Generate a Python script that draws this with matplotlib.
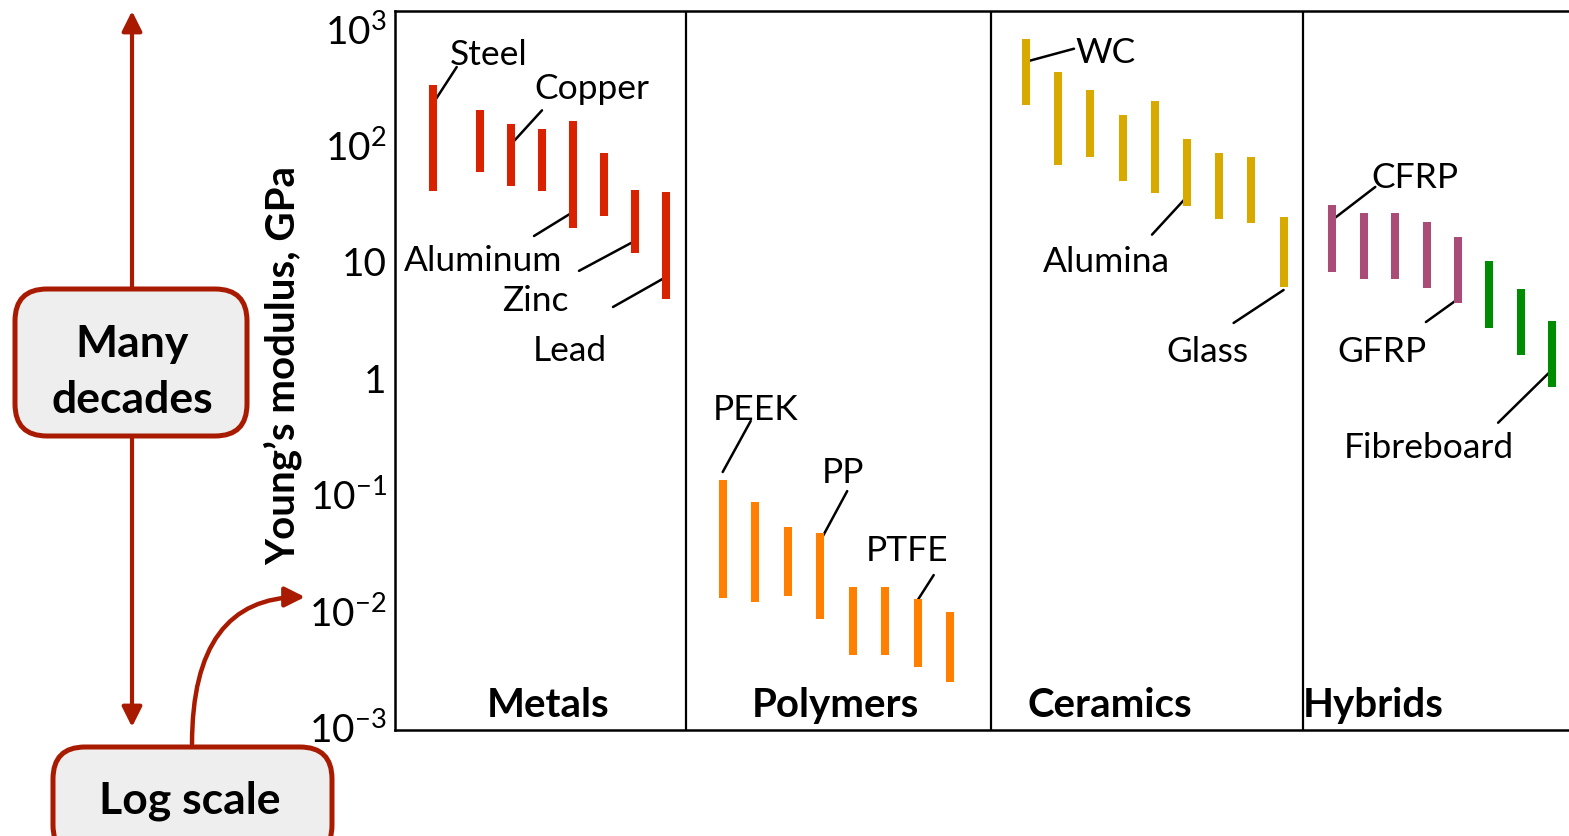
import numpy as np
import matplotlib
matplotlib.use("Agg")
import matplotlib.pyplot as plt
from matplotlib.patches import FancyBboxPatch, FancyArrowPatch
import matplotlib.transforms as mtransforms

plt.rcParams['font.family'] = ['Lato', 'DejaVu Sans']
plt.rcParams['mathtext.fontset'] = 'custom'
plt.rcParams['mathtext.rm'] = 'Lato'

# Young's modulus ranges (GPa), low / high
metals_lo = [39.5, 58.2, 43.6, 39.5, 19.1, 24.1, 11.7, 4.66]
metals_hi = [325, 198, 150, 136, 158, 84, 40.5, 38.7]
polymers_lo = [0.0127, 0.0116, 0.0131, 0.0084, 0.0041, 0.0041, 0.0032, 0.0024]
polymers_hi = [0.130, 0.084, 0.051, 0.046, 0.0157, 0.0157, 0.0124, 0.0095]
ceramics_lo = [217, 67, 78, 48, 38, 29.7, 22.7, 21.1, 5.9]
ceramics_hi = [804, 421, 293, 179, 237, 111, 84, 78, 23.9]
composites_lo = [8.0, 6.9, 6.9, 5.8, 4.3]
composites_hi = [30.1, 25.8, 25.8, 21.5, 16.0]
fibreboard_lo = [2.64, 1.54, 0.815]
fibreboard_hi = [9.87, 5.74, 3.05]

categories = ["Metals", "Polymers", "Ceramics", "Hybrids"]
ytick_vals = [1e-3, 1e-2, 1e-1, 1, 10, 1e2, 1e3]
ytick_labels = [r'$\mathregular{10^{-3}}$', r'$\mathregular{10^{-2}}$', r'$\mathregular{10^{-1}}$',
                '1', '10', r'$\mathregular{10^{2}}$', r'$\mathregular{10^{3}}$']

# layout (x axis runs in figure pixels, it is hidden anyway)
W, H = 1569, 837
fig = plt.figure(figsize=(W / 100, H / 100), dpi=100)
ax = fig.add_axes([395 / W, 1 - 731 / H, 1 - 395 / W, 719 / H])
ax.set_yscale('log')
ax.set_xlim(395, W)
ax.set_ylim(10 ** -3.034, 10 ** 3.146)


def xs(start, step, n):
    return start + step * np.arange(n)


x_met = xs(449.0, 31.0, 8)
x_met[0] = 432.7
x_pol = xs(722.7, 32.5, 8)
x_cer = xs(1026.0, 32.2, 9)
x_hyb = xs(1332.3, 31.4, 8)

bar_lw = 5.8
ax.vlines(x_met, metals_lo, metals_hi, color='#d92200', lw=bar_lw, zorder=3)
ax.vlines(x_pol, polymers_lo, polymers_hi, color='#ff8000', lw=bar_lw, zorder=3)
ax.vlines(x_cer, ceramics_lo, ceramics_hi, color='#d8aa00', lw=bar_lw, zorder=3)
ax.vlines(x_hyb[:5], composites_lo, composites_hi, color='#aa4c78', lw=bar_lw, zorder=3)
ax.vlines(x_hyb[5:], fibreboard_lo, fibreboard_hi, color='#008c00', lw=bar_lw, zorder=3)

# group dividers
for xd in [685.7, 991.3, 1302.5]:
    ax.axvline(xd, color='black', lw=1.6, zorder=1)

# group names
trans = mtransforms.blended_transform_factory(ax.transData, ax.transAxes)
for name, xc in zip(categories, [548, 835, 1110, 1373]):
    ax.text(xc, 0.036, name, transform=trans, ha='center', va='center',
            fontsize=29, fontweight='bold')

# labelled materials: (name, bar x, touch value, line end offset, text offset)
labels = [
    ("Steel", x_met[0], 222, (24, 37), (56, 50)),
    ("Copper", x_met[2], 100, (31, 34), (81, 56)),
    ("Aluminum", x_met[4], 26.2, (-39, -24), (-90, -48)),
    ("Zinc", x_met[6], 14.8, (-56, -30), (-100, -59)),
    ("Lead", x_met[7], 7.24, (-53, -30), (-96, -73)),
    ("PEEK", x_pol[0], 0.1526, (28, 51), (33, 63)),
    ("PP", x_pol[3], 0.0389, (27, 50), (23, 69)),
    ("PTFE", x_pol[6], 0.0121, (16, 25), (-11, 50)),
    ("WC", x_cer[0], 513, (48, 13), (80, 10)),
    ("Alumina", x_cer[5], 35.5, (-35, -38), (-81, -64)),
    ("Glass", x_cer[8], 5.6, (-50, -33), (-76, -61)),
    ("CFRP", x_hyb[0], 22.4, (43, 33), (83, 43)),
    ("GFRP", x_hyb[4], 4.68, (-32, -23), (-76, -52)),
    ("Fibreboard", x_hyb[7], 1.155, (-54, -53), (-123, -77)),
]
for name, bx, yv, lend, toff in labels:
    ax.annotate('', xy=(bx, yv), xytext=lend, textcoords='offset pixels',
                arrowprops=dict(arrowstyle='-', color='black', lw=1.8,
                                shrinkA=0, shrinkB=0), zorder=2)
    ax.annotate(name, xy=(bx, yv), xytext=toff, textcoords='offset pixels',
                ha='center', va='center', fontsize=25.5)

ax.set_yticks(ytick_vals)
ax.set_yticklabels(ytick_labels)
ax.minorticks_off()
ax.tick_params(axis='y', length=0, pad=6, labelsize=28)
ax.set_xticks([])
ax.spines['right'].set_visible(False)
for s in ['top', 'left', 'bottom']:
    ax.spines[s].set_linewidth(1.8)
ax.set_ylabel('Young\u2019s modulus, GPa', fontsize=29, fontweight='bold')
ax.yaxis.set_label_coords(-0.079, 0.509)

# left-hand explanatory graphics (overlay in pixel coordinates)
ov = fig.add_axes([0, 0, 1, 1], zorder=-1)
ov.set_xlim(0, W)
ov.set_ylim(H, 0)
ov.axis('off')
red = '#a81b00'
ov.annotate('', xy=(132, 12), xytext=(132, 728),
            arrowprops=dict(arrowstyle='<|-|>', color=red, lw=3.0,
                            mutation_scale=30, shrinkA=0, shrinkB=0))
box1 = FancyBboxPatch((15, 290), 232, 147, boxstyle='round,pad=0,rounding_size=32',
                      fc='#eeeeee', ec=red, lw=3.6, zorder=3)
ov.add_patch(box1)
ov.text(132, 372, 'Many\ndecades', ha='center', va='center', fontsize=32,
        fontweight='bold', linespacing=1.5, zorder=4)
box2 = FancyBboxPatch((53, 748), 279, 110, boxstyle='round,pad=0,rounding_size=32',
                      fc='#eeeeee', ec=red, lw=3.6, zorder=3)
ov.add_patch(box2)
ov.text(190, 801, 'Log scale', ha='center', va='center', fontsize=32,
        fontweight='bold', zorder=4)
curve = FancyArrowPatch((192, 745), (305, 598),
                        connectionstyle='angle3,angleA=90,angleB=0',
                        arrowstyle='-|>', mutation_scale=30, color=red, lw=3.2,
                        shrinkA=0, shrinkB=0)
ov.add_patch(curve)

fig.savefig('out.png', dpi=100)
